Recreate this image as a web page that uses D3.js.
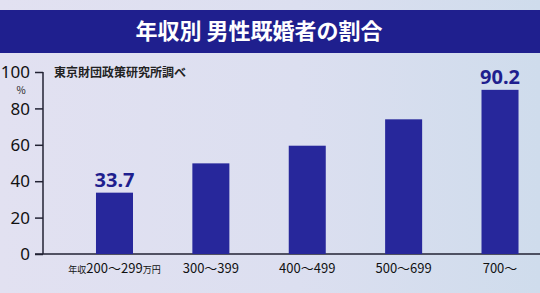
<!DOCTYPE html>
<html>
<head>
<meta charset="utf-8">
<script src="https://cdn.jsdelivr.net/npm/d3@7"></script>
<style>
  html, body { margin: 0; padding: 0; }
  body { width: 540px; height: 293px; overflow: hidden; font-family: "Noto Sans CJK JP", "Noto Sans", sans-serif; }
</style>
</head>
<body>
<div class="chart"></div>
<script>
// data
const categories = ["200〜299", "300〜399", "400〜499", "500〜699", "700〜"];
const values = [33.7, 49.8, 59.5, 74.0, 90.2];
const yTicks = [0, 20, 40, 60, 80, 100];
const labelled = [0, 4]; // bars that carry a value label

const title = "年収別 男性既婚者の割合";
const source = "東京財団政策研究所調べ";

const W = 540, H = 293;

const svg = d3.select(".chart")
  .append("svg")
  .attr("width", W)
  .attr("height", H);

// background gradient
const defs = svg.append("defs");
const bg = defs.append("linearGradient").attr("id", "bg").attr("x1", 0).attr("x2", 1).attr("y1", 0).attr("y2", 0);
bg.append("stop").attr("offset", "0%").attr("stop-color", "#e2e1f1");
bg.append("stop").attr("offset", "55%").attr("stop-color", "#dcdff0");
bg.append("stop").attr("offset", "100%").attr("stop-color", "#cfdcec");

svg.append("rect").attr("width", W).attr("height", H).attr("fill", "url(#bg)");

// title band
svg.append("rect")
  .attr("x", 0).attr("y", 10)
  .attr("width", W).attr("height", 43)
  .attr("fill", "#1f1f8e");
svg.append("text")
  .attr("x", 259).attr("y", 39)
  .attr("text-anchor", "middle")
  .attr("fill", "#ffffff")
  .attr("font-size", 22)
  .attr("font-weight", "bold")
  .text(title);

// scales
const x = d3.scaleBand()
  .domain(categories)
  .range([66.3, 548.2])
  .paddingInner(0.616)
  .paddingOuter(0.308);

const y = d3.scaleLinear()
  .domain([0, 100])
  .range([254, 72]);

const ink = "#222233";

// y axis
const yAxis = svg.append("g")
  .attr("transform", "translate(43,0)")
  .call(d3.axisLeft(y).tickValues(yTicks).tickSize(8).tickPadding(5));
yAxis.select(".domain").attr("stroke", ink).attr("stroke-width", 1.5).attr("d", `M0,${y(0)}V${y(100)}`);
yAxis.selectAll(".tick line").attr("stroke", ink).attr("stroke-width", 1.5);
yAxis.selectAll(".tick text")
  .attr("fill", "#111")
  .attr("font-size", 17)
  .attr("font-family", "'Noto Sans', sans-serif")
  .attr("dy", "0.34em");

// baseline
svg.append("line")
  .attr("x1", 35).attr("x2", W)
  .attr("y1", y(0)).attr("y2", y(0))
  .attr("stroke", ink).attr("stroke-width", 1.5);

// % unit, tucked under the 100 label
svg.append("text")
  .attr("x", 21).attr("y", 94)
  .attr("text-anchor", "middle")
  .attr("font-size", 10)
  .attr("fill", "#222")
  .text("%");

// source note
svg.append("text")
  .attr("x", 54).attr("y", 77)
  .attr("font-size", 12)
  .attr("font-weight", "bold")
  .attr("fill", "#222")
  .text(source);

// bars
svg.selectAll(".bar")
  .data(values)
  .enter()
  .append("rect")
  .attr("class", "bar")
  .attr("x", (d, i) => x(categories[i]))
  .attr("width", x.bandwidth())
  .attr("y", d => y(d))
  .attr("height", d => y(0) - y(d))
  .attr("fill", "#27279b");

// value labels
svg.selectAll(".value")
  .data(labelled)
  .enter()
  .append("text")
  .attr("class", "value")
  .attr("x", i => x(categories[i]) + x.bandwidth() / 2)
  .attr("y", i => y(values[i]) - 6)
  .attr("text-anchor", "middle")
  .attr("font-size", 20)
  .attr("font-weight", "bold")
  .attr("font-family", "'Noto Sans', sans-serif")
  .attr("fill", "#1f1f8e")
  .text(i => values[i].toFixed(1));

// category labels
const cat = svg.selectAll(".cat")
  .data(categories)
  .enter()
  .append("text")
  .attr("class", "cat")
  .attr("x", d => x(d) + x.bandwidth() / 2)
  .attr("y", 273)
  .attr("text-anchor", "middle")
  .attr("font-size", 13)
  .attr("fill", "#111");

cat.each(function (d, i) {
  const t = d3.select(this);
  if (i === 0) {
    t.append("tspan").attr("font-size", 9).text("年収");
    t.append("tspan").text(d);
    t.append("tspan").attr("font-size", 9).text("万円");
  } else {
    t.text(d);
  }
});
</script>
</body>
</html>
